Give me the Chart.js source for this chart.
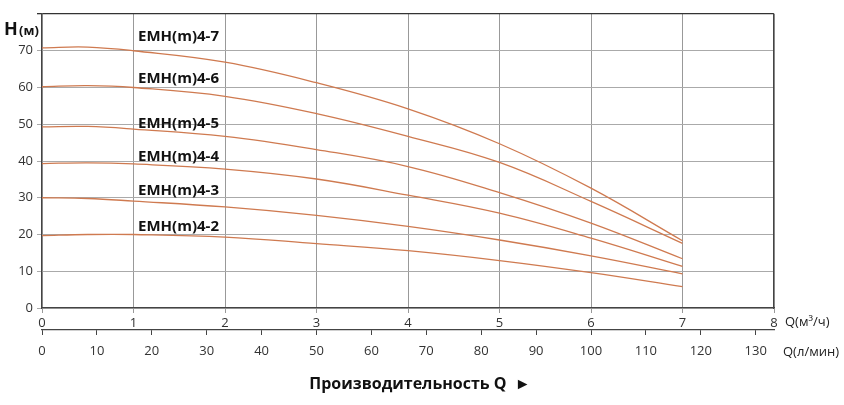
<!DOCTYPE html>
<html><head><meta charset="utf-8">
<script src="https://cdn.jsdelivr.net/npm/chart.js@4"></script>
<style>html,body{margin:0;padding:0;background:#fff}#w{width:844px;height:405px}</style>
</head><body><div id="w"><canvas id="c"></canvas></div>
<script>
const flowQ = [0, 0.5, 1, 2, 3, 4, 5, 6, 7];
const seriesNames = ['EMH(m)4-7','EMH(m)4-6','EMH(m)4-5','EMH(m)4-4','EMH(m)4-3','EMH(m)4-2'];
const h47 = [70.8, 71.0, 70.0, 66.9, 61.3, 54.2, 44.7, 32.6, 18.3];
const h46 = [60.2, 60.5, 60.0, 57.6, 52.9, 46.7, 39.6, 29.0, 17.6];
const h45 = [49.3, 49.4, 48.7, 46.7, 43.1, 38.5, 31.4, 23.1, 13.4];
const h44 = [39.3, 39.5, 39.2, 37.8, 35.1, 30.7, 25.8, 19.0, 11.3];
const h43 = [30.0, 29.8, 29.1, 27.5, 25.2, 22.2, 18.5, 14.2, 9.3];
const h42 = [19.7, 20.0, 20.0, 19.3, 17.5, 15.6, 12.9, 9.6, 5.8];
const labelY = [73.8, 62.4, 50.2, 41.2, 31.9, 22.1];
const labelX = 1.05;
const yTicks = [0,10,20,30,40,50,60,70];
const lpmTicks = [0,10,20,30,40,50,60,70,80,90,100,110,120,130];
const all = [h47,h46,h45,h44,h43,h42];
const COL = '#cf7a50';
const F = '"Open Sans", Lato, sans-serif';

const datasets = all.map((arr,i)=>({
  label: seriesNames[i],
  data: arr.map((v,j)=>({x:flowQ[j], y:v})),
  borderColor: COL, borderWidth: 1.3, pointRadius: 0,
  tension: 0.4, fill:false
}));

const deco = {
  id:'deco',
  afterDatasetsDraw(ch){
    const c = ch.ctx, xs = ch.scales.x, ys = ch.scales.y;
    c.save();
    c.fillStyle = '#111';
    c.font = 'bold 15px ' + F;
    c.textBaseline = 'middle';
    seriesNames.forEach((n,i)=>c.fillText(n, xs.getPixelForValue(labelX), ys.getPixelForValue(labelY[i])));
    c.font = 'bold 18px ' + F; c.fillText('H', 4, 30);
    c.font = 'bold 13px ' + F; c.fillText('(м)', 19, 31);
    c.font = '13px ' + F; c.fillStyle = '#222';
    c.fillText('Q(м³/ч)', 785, 322);
    c.fillText('Q(л/мин)', 783, 352);
    c.font = 'bold 16px ' + F; c.fillStyle = '#111';
    c.textAlign = 'center';
    c.fillText('Производительность Q  ►', 420, 384);
    c.restore();
  }
};

new Chart(document.getElementById('c'), {
  type:'line',
  data:{datasets},
  plugins:[deco],
  options:{
    responsive:true, maintainAspectRatio:false, animation:false,
    layout:{padding:{top:14,right:70,left:0,bottom:0}},
    plugins:{legend:{display:false}, tooltip:{enabled:false}},
    scales:{
      x:{type:'linear', min:0, max:8, position:'bottom',
        ticks:{stepSize:1, color:'#333', font:{family:F,size:13}, padding:2},
        grid:{color:'#999', tickLength:5},
        border:{color:'#444', width:1.2},
        afterFit(s){s.height=22;}
      },
      x2:{type:'linear', min:0, max:8/0.06, position:'bottom',
        afterBuildTicks(s){s.ticks = lpmTicks.map(v=>({value:v}));},
        ticks:{color:'#333', font:{family:F,size:13}, padding:8},
        grid:{drawOnChartArea:false, color:'#444', tickLength:5},
        border:{color:'#444', width:1.2},
        afterFit(s){s.height=75;}
      },
      y:{type:'linear', min:0, max:80,
        afterBuildTicks(s){s.ticks=[0,5,10,15,20,25,30,35,40,45,50,55,60,65,70,75,80].map(v=>({value:v}));},
        ticks:{color:'#333', font:{family:F,size:13}, padding:4,
          callback:v=>yTicks.includes(v)?String(v):''},
        grid:{color:ctx=>ctx.tick && ctx.tick.value%10===0 && ctx.tick.value<80 ? '#aaa' : (ctx.tick && ctx.tick.value===80 ? '#333' : '#ddd'),
          lineWidth:ctx=>ctx.tick && ctx.tick.value===80 ? 1.3 : 1,
          tickLength:5},
        border:{color:'#444', width:1.2},
        afterFit(s){s.width=42;}
      },
      yR:{position:'right', min:0, max:80, display:true,
        ticks:{display:false}, grid:{display:false, drawTicks:false},
        border:{color:'#444', width:1.2}, afterFit(s){s.width=0;}
      }
    }
  }
});
</script></body></html>
